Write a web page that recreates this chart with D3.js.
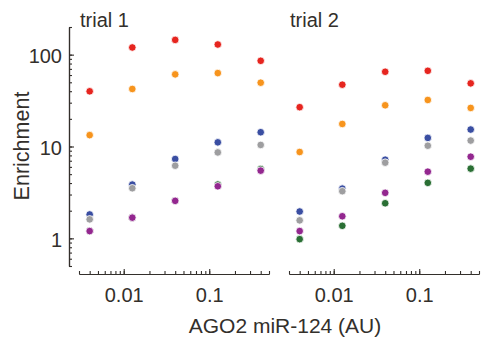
<!DOCTYPE html>
<html>
<head>
<meta charset="utf-8">
<script src="https://cdn.jsdelivr.net/npm/d3@7"></script>
<style>
    body { margin: 0; background: #fff; }
    svg { display: block; font-family: "Liberation Sans", Arial, sans-serif; }
</style>
</head>
<body>
<div id="chart"></div>
<script>
// x positions (AGO2 miR-124, AU) shared by both trials
const xValues = [0.004, 0.0126, 0.04, 0.126, 0.4];
const trialNames = ["trial 1", "trial 2"];
const xTickLabels = [0.01, 0.1];
const yTickLabels = [1, 10, 100];

// enrichment values, one array per colour and trial
const red1 = [39.9, 119.7, 144.7, 129, 85.7];
const orange1 = [13.3, 42.3, 61, 63, 49.5];
const blue1 = [1.82, 3.85, 7.31, 11.1, 14.3];
const gray1 = [1.61, 3.51, 6.18, 8.62, 10.4];
const green1 = [1.2, 1.68, 2.56, 3.85, 5.67];
const purple1 = [1.2, 1.68, 2.56, 3.69, 5.46];

const red2 = [26.8, 47.1, 65.1, 66.7, 48.7];
const orange2 = [8.71, 17.6, 28.1, 32.1, 26.3];
const blue2 = [1.96, 3.48, 7.18, 12.4, 15.3];
const gray2 = [1.57, 3.26, 6.67, 10.2, 11.6];
const green2 = [0.98, 1.37, 2.41, 4.02, 5.74];
const purple2 = [1.2, 1.74, 3.13, 5.32, 7.74];

const colors = {
    red: "#e6251f",
    orange: "#f7941d",
    blue: "#3a4ea2",
    gray: "#9e9ea0",
    green: "#2a6f34",
    purple: "#93278f"
};

// drawing order: later ones sit on top
const trialSeries = [
    [["red", red1], ["orange", orange1], ["blue", blue1], ["gray", gray1], ["green", green1], ["purple", purple1]],
    [["red", red2], ["orange", orange2], ["blue", blue2], ["gray", gray2], ["green", green2], ["purple", purple2]]
];

const width = 492, height = 337;
const ink = "#332f2b";
const panelLeft = [79, 289];
const panelWidth = 190;

const svg = d3.select("#chart").append("svg")
    .attr("width", width)
    .attr("height", height);

const x = d3.scaleLog().domain([0.003, 0.5]).range([0, panelWidth]);
const y = d3.scaleLog().domain([0.5, 200]).range([266, 27]);

// minor tick values
function minorTicks(lo, hi) {
    let out = [];
    for (let p = -4; p <= 3; p++) {
        for (let m = 1; m <= 9; m++) {
            let v = +(m * Math.pow(10, p)).toPrecision(3);
            if (v >= lo * 0.999 && v <= hi * 1.001) out.push(v);
        }
    }
    return out;
}

function styleAxis(g) {
    g.select(".domain").attr("stroke", ink).attr("stroke-width", 1.2);
    g.selectAll(".tick line").attr("stroke", ink).attr("stroke-width", 1.1);
    g.selectAll("text").attr("fill", ink).attr("font-size", 20)
        .attr("font-family", "Liberation Sans, Arial, sans-serif");
}

// y axis (only on first panel)
const yAxisX = 69;
const yMinor = svg.append("g")
    .attr("transform", "translate(" + yAxisX + ",0)")
    .call(d3.axisLeft(y).tickValues(minorTicks(0.5, 200)).tickSize(-3).tickSizeOuter(0).tickFormat(""));
styleAxis(yMinor);
const yMajor = svg.append("g")
    .attr("transform", "translate(" + yAxisX + ",0)")
    .call(d3.axisLeft(y).tickValues(yTickLabels).tickSize(-5).tickSizeOuter(0).tickPadding(7).tickFormat(d3.format("d")));
styleAxis(yMajor);
yMajor.selectAll("text").attr("dy", "0.4em");

svg.append("text")
    .attr("transform", "translate(29," + 146 + ") rotate(-90)")
    .attr("text-anchor", "middle")
    .attr("fill", ink)
    .attr("font-size", 21.5)
    .text("Enrichment");

trialNames.forEach(function (name, i) {
    const panel = svg.append("g")
        .attr("transform", "translate(" + panelLeft[i] + ",0)");

    const xMinor = panel.append("g")
        .attr("transform", "translate(0,274)")
        .call(d3.axisBottom(x).tickValues(minorTicks(0.003, 0.5)).tickSize(-3).tickSizeOuter(0).tickFormat(""));
    styleAxis(xMinor);
    const xMajor = panel.append("g")
        .attr("transform", "translate(0,274)")
        .call(d3.axisBottom(x).tickValues(xTickLabels).tickSize(-5).tickSizeOuter(0).tickPadding(14).tickFormat(d => d));
    styleAxis(xMajor);

    panel.append("text")
        .attr("x", 1)
        .attr("y", 27)
        .attr("fill", ink)
        .attr("font-size", 20)
        .text(name);

    trialSeries[i].forEach(function (s) {
        panel.append("g")
            .selectAll("circle")
            .data(s[1])
            .enter().append("circle")
            .attr("cx", function (d, j) { return x(xValues[j]); })
            .attr("cy", function (d) { return y(d); })
            .attr("r", 3.8)
            .attr("fill", colors[s[0]])
            .attr("stroke", "#fff")
            .attr("stroke-width", 0.8);
    });
});

svg.append("text")
    .attr("x", 285)
    .attr("y", 333)
    .attr("text-anchor", "middle")
    .attr("fill", ink)
    .attr("font-size", 21)
    .text("AGO2 miR-124 (AU)");
</script>
</body>
</html>
